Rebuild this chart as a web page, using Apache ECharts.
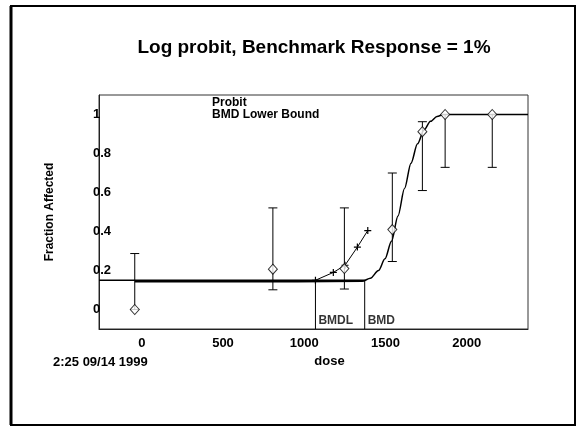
<!DOCTYPE html>
<html>
<head>
<meta charset="utf-8">
<script src="https://cdn.jsdelivr.net/npm/echarts@6/dist/echarts.min.js"></script>
<style>html,body{margin:0;padding:0;background:#fff}#chart{width:578px;height:428px}</style>
</head>
<body>
<div id="chart"></div>
<script>
"use strict";
// observed groups: dose, fraction affected, error bar limits
const doses = [0, 850, 1290, 1585, 1770, 1910, 2200];
const fractions = [0, 0.207, 0.21, 0.41, 0.912, 1.0, 1.0];
const lowerBounds = [0, 0.101, 0.105, 0.246, 0.61, 0.729, 0.729];
const upperBounds = [0.287, 0.521, 0.521, 0.70, 0.963, 1.0, 1.0];

// fitted log probit curve
const probitDose = [0, 1000, 1400, 1450, 1500, 1540, 1580, 1620, 1660, 1700, 1740, 1780, 1820, 1860, 1900, 2420];
const probitFrac = [0.142, 0.142, 0.145, 0.16, 0.2, 0.26, 0.35, 0.48, 0.62, 0.75, 0.85, 0.92, 0.965, 0.99, 1.0, 1.0];

// BMD lower bound curve
const lowerDose = [1112, 1222, 1294, 1370, 1434];
const lowerFrac = [0.15, 0.19, 0.227, 0.32, 0.405];

const bmdl = 1112;
const bmd = 1415;
const bmrLevel = 0.15;

const xMin = -220, xMax = 2420;
const yMin = -0.1, yMax = 1.1;
const xTicks = [0, 500, 1000, 1500, 2000];
const yTicks = [0, 0.2, 0.4, 0.6, 0.8, 1];

const FONT = "'Liberation Sans', Arial, sans-serif";
const zip = (a, b) => a.map((v, i) => [v, b[i]]);

const chart = echarts.init(document.getElementById('chart'));

const errorBars = {
  type: 'custom',
  data: doses.map((d, i) => [d, lowerBounds[i], upperBounds[i]]),
  renderItem: function (params, api) {
    const x = api.value(0);
    const lo = api.coord([x, api.value(1)]);
    const hi = api.coord([x, api.value(2)]);
    const w = 4.5;
    const st = { stroke: '#000', lineWidth: 1 };
    return {
      type: 'group',
      children: [
        { type: 'line', shape: { x1: lo[0], y1: lo[1], x2: hi[0], y2: hi[1] }, style: st },
        { type: 'line', shape: { x1: hi[0] - w, y1: hi[1], x2: hi[0] + w, y2: hi[1] }, style: st },
        { type: 'line', shape: { x1: lo[0] - w, y1: lo[1], x2: lo[0] + w, y2: lo[1] }, style: st }
      ]
    };
  },
  z: 3
};

const option = {
  animation: false,
  textStyle: { fontFamily: FONT },
  title: [
    {
      text: 'Log probit, Benchmark Response = 1%',
      left: 309, top: 33, textAlign: 'center',
      textStyle: { fontSize: 19, fontWeight: 'bold', color: '#000', fontFamily: FONT }
    },
    {
      text: 'Probit\nBMD Lower Bound',
      left: 207, top: 92,
      textStyle: { fontSize: 12, fontWeight: 'bold', color: '#000', lineHeight: 12, fontFamily: FONT }
    },
    {
      text: '2:25 09/14 1999',
      left: 48, top: 351,
      textStyle: { fontSize: 13, fontWeight: 'bold', color: '#000', fontFamily: FONT }
    }
  ],
  graphic: [
    { type: 'rect', shape: { x: 11, y: 6, width: 564, height: 419 }, style: { fill: 'none', stroke: '#000', lineWidth: 2 } },
    { type: 'line', shape: { x1: 11, y1: 6, x2: 11, y2: 425 }, style: { stroke: '#000', lineWidth: 3 } }
  ],
  grid: { left: 99, top: 95, right: 50, bottom: 99, show: true, borderColor: '#333', borderWidth: 1 },
  xAxis: {
    type: 'value', min: xMin, max: xMax,
    name: 'dose', nameLocation: 'middle', nameGap: 24,
    nameTextStyle: { fontSize: 13, fontWeight: 'bold', color: '#000', padding: [0, 0, 0, 32] },
    axisLine: { show: true, onZero: false, lineStyle: { color: '#222', width: 1 } },
    axisTick: { show: false },
    splitLine: { show: false },
    axisLabel: {
      customValues: xTicks, formatter: v => String(v),
      fontSize: 13, fontWeight: 'bold', color: '#000', margin: 8, padding: [0, 0, 0, 14]
    }
  },
  yAxis: {
    type: 'value', min: yMin, max: yMax,
    name: 'Fraction Affected', nameLocation: 'middle', nameGap: 43,
    nameTextStyle: { fontSize: 12, fontWeight: 'bold', color: '#000' },
    axisLine: { show: true, onZero: false, lineStyle: { color: '#222', width: 1 } },
    axisTick: { show: false },
    splitLine: { show: false },
    axisLabel: {
      customValues: yTicks, formatter: v => String(v),
      fontSize: 13, fontWeight: 'bold', color: '#000', align: 'left', margin: 6
    }
  },
  series: [
    {
      name: 'BMR', type: 'line', symbol: 'none',
      data: [[xMin, bmrLevel], [bmd, bmrLevel]],
      lineStyle: { color: '#000', width: 1.5 }
    },
    {
      name: 'BMDL line', type: 'line', symbol: 'none',
      data: [[bmdl, bmrLevel], [bmdl, yMin]],
      lineStyle: { color: '#000', width: 1 }
    },
    {
      name: 'BMD line', type: 'line', symbol: 'none',
      data: [[bmd, bmrLevel], [bmd, yMin]],
      lineStyle: { color: '#000', width: 1 }
    },
    {
      name: 'Probit', type: 'line', symbol: 'none', smooth: 0.3, smoothMonotone: 'x',
      data: zip(probitDose, probitFrac),
      lineStyle: { color: '#000', width: 1.5 }
    },
    {
      name: 'BMD Lower Bound', type: 'line',
      symbol: 'path://M0,5L10,5M5,0L5,10', symbolSize: 7, showSymbol: true,
      data: zip(lowerDose, lowerFrac),
      lineStyle: { color: '#000', width: 1 },
      itemStyle: { color: 'transparent', borderColor: '#000', borderWidth: 1.2 }
    },
    errorBars,
    {
      name: 'Observed', type: 'scatter', symbol: 'diamond', symbolSize: [9, 10],
      data: zip(doses, fractions),
      itemStyle: { color: '#fff', borderColor: '#000', borderWidth: 1 },
      z: 4
    },
    {
      name: 'labels', type: 'scatter', symbolSize: 0, clip: false,
      data: [[bmdl, yMin, 'BMDL'], [bmd, yMin, 'BMD']],
      label: {
        show: true, position: [3, -14], formatter: p => p.value[2],
        fontSize: 12, fontWeight: 'bold', color: '#000', fontFamily: FONT
      }
    }
  ]
};

chart.setOption(option);
</script>
</body>
</html>
